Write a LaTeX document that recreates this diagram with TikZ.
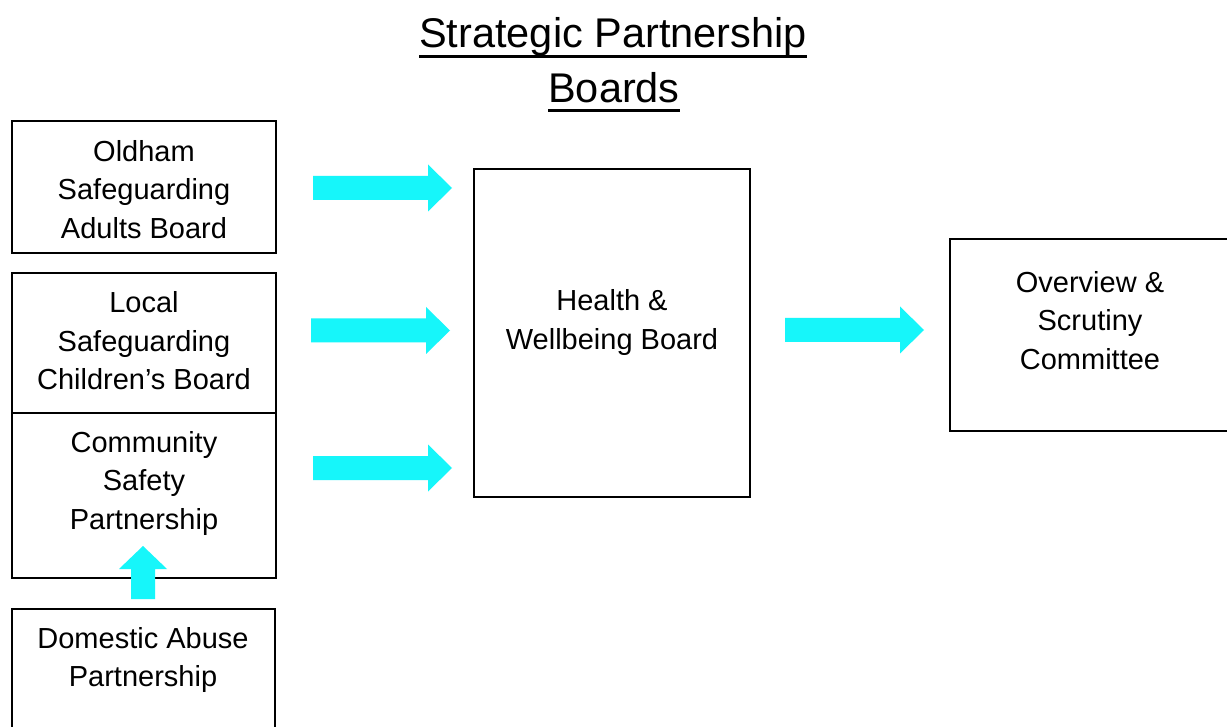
\documentclass[tikz,border=0pt]{standalone}
\usepackage{fontspec}
\setmainfont{Liberation Sans}
\definecolor{arrowcyan}{RGB}{22,246,250}
\newcommand\harrow[3]{% start x, tip x, centre y
  \fill[arrowcyan] (#1,#3-12) -- (#2-24,#3-12) -- (#2-24,#3-23.5) -- (#2,#3)
    -- (#2-24,#3+23.5) -- (#2-24,#3+12) -- (#1,#3+12) -- cycle;}
\begin{document}
\begin{tikzpicture}[x=1pt,y=-1pt,
  box/.style={draw=black, line width=1.6pt, inner sep=0pt},
  lbl/.style={align=center, font=\fontsize{29}{38.5}\selectfont, inner sep=0pt},
  ttl/.style={font=\fontsize{41.5}{50}\selectfont, inner sep=0pt, anchor=base}]
\useasboundingbox (0,0) rectangle (1227,727);
\clip (0,0) rectangle (1227,727);
\fill[white] (0,0) rectangle (1227,727);

% title
\node[ttl] (t1) at (613,48) {Strategic Partnership};
\node[ttl] (t2) at (614,103) {Boards};
\draw[line width=3pt] ([yshift=-8.5pt]t1.base west) -- ([yshift=-8.5pt]t1.base east);
\draw[line width=3pt] ([yshift=-8pt]t2.base west) -- ([yshift=-8pt]t2.base east);

% boxes
\draw[box] (12,121) rectangle (276,253);
\draw[box] (12,273) rectangle (276,413);
\draw[box] (12,413) rectangle (276,578);
\draw[box] (12,609) rectangle (275,760);
\draw[box] (474,169) rectangle (750,497);
\draw[box] (950,239) rectangle (1240,431);

% labels
\node[lbl] (osab) at (144,189.5) {Oldham\\Safeguarding\\Adults Board};
\node[lbl] (lscb) at (144,341) {Local\\Safeguarding\\Children’s Board};
\node[lbl] (csp) at (144,483.5) {Community\\Safety\\Partnership};
\node[lbl] (dap) at (143,660) {Domestic Abuse\\Partnership};
\node[lbl] (hwb) at (612,322.5) {Health \&\\Wellbeing Board};
\node[lbl] (osc) at (1090,320.5) {Overview \&\\Scrutiny\\Committee};

% block arrows
\harrow{313}{452}{188}
\harrow{311}{450}{330.5}
\harrow{313}{452}{468}
\harrow{785}{924}{330}
\fill[arrowcyan] (131,599) -- (131,569) -- (119,569) -- (143,546) -- (167,569)
  -- (155,569) -- (155,599) -- cycle;
\end{tikzpicture}
\end{document}
